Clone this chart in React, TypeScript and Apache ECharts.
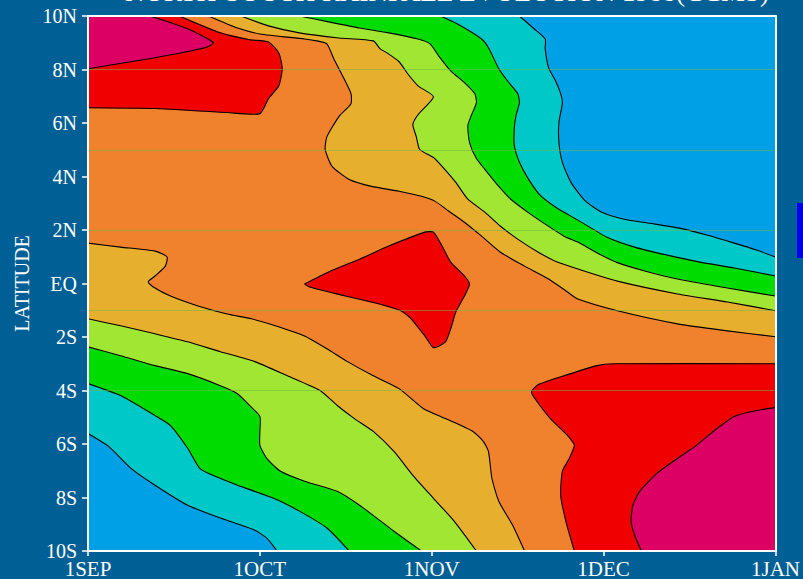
import React, { useEffect, useRef } from 'react';
import * as echarts from 'echarts';

type Pt = [number, number];

// x: months since 1 September (0..4), y: latitude in degrees (+N / -S)
const MONTH_LABELS = ['1SEP', '1OCT', '1NOV', '1DEC', '1JAN'];
const LAT_LABELS = ['10S', '8S', '6S', '4S', '2S', 'EQ', '2N', '4N', '6N', '8N', '10N'];
const GUIDE_LATS = [8, 5, 2, -1, -4];

// Contour isolines, level 1 (lowest) .. level 7 (highest).
// "NE" branches run from the top edge to the right edge,
// "SW" branches run from the left edge to the bottom edge.
const ISO1_NE: Pt[] = [[2.51, 10], [2.59, 9.55], [2.66, 9.14], [2.66, 8.77], [2.68, 8.06], [2.72, 7.58], [2.75, 7.1], [2.76, 6.76], [2.74, 6.02], [2.74, 5.27], [2.76, 4.53], [2.81, 3.78], [2.89, 3.11], [2.99, 2.66], [3.12, 2.4], [3.27, 2.25], [3.44, 2.07], [3.6, 1.81], [3.76, 1.51], [3.89, 1.25], [4, 0.99]];
const ISO1_SW: Pt[] = [[0, -5.61], [0.12, -6.09], [0.25, -6.91], [0.39, -7.54], [0.58, -8.29], [0.77, -8.77], [0.97, -9.22], [1.04, -9.52], [1.1, -10]];

const ISO2_NE: Pt[] = [[2.05, 10], [2.15, 9.7], [2.29, 9.14], [2.33, 8.81], [2.39, 8.03], [2.44, 7.58], [2.5, 7.1], [2.51, 6.76], [2.49, 6.28], [2.48, 5.79], [2.48, 5.16], [2.51, 4.53], [2.56, 3.93], [2.63, 3.3], [2.73, 2.81], [2.85, 2.37], [3.02, 1.73], [3.18, 1.36], [3.37, 1.06], [3.56, 0.8], [3.76, 0.58], [4, 0.28]];
const ISO2_SW: Pt[] = [[0, -3.74], [0.19, -4.19], [0.39, -4.94], [0.48, -5.31], [0.58, -6.16], [0.65, -6.91], [0.74, -7.21], [0.87, -7.54], [1.08, -8.03], [1.23, -8.51], [1.39, -9.14], [1.52, -10]];

const ISO3_NE: Pt[] = [[1.23, 10], [1.4, 9.78], [1.58, 9.55], [1.75, 9.37], [1.92, 9.14], [1.99, 8.96], [2.04, 8.51], [2.11, 7.95], [2.19, 7.51], [2.25, 7.1], [2.26, 6.76], [2.23, 6.28], [2.21, 5.9], [2.22, 5.27], [2.26, 4.67], [2.31, 4.26], [2.39, 3.63], [2.46, 3.15], [2.56, 2.66], [2.66, 2.22], [2.77, 1.77], [2.85, 1.55], [2.96, 1.15], [3.08, 0.78], [3.25, 0.45], [3.43, 0.17], [3.72, -0.17], [4, -0.47]];
const ISO3_SW: Pt[] = [[0, -2.37], [0.19, -2.7], [0.39, -3.07], [0.58, -3.37], [0.77, -3.82], [0.87, -4.12], [0.94, -4.56], [1.0, -4.97], [1.0, -5.53], [1.0, -6.05], [1.04, -6.54], [1.12, -7.02], [1.26, -7.39], [1.45, -7.77], [1.58, -8.29], [1.68, -8.77], [1.78, -9.26], [1.94, -10]];

const ISO4_NE: Pt[] = [[0.89, 10], [1.05, 9.63], [1.23, 9.37], [1.46, 9.18], [1.66, 9.07], [1.7, 8.77], [1.74, 8.62], [1.81, 8.29], [1.86, 7.84], [1.92, 7.39], [2.01, 6.98], [1.92, 6.31], [1.89, 5.94], [1.91, 5.49], [1.93, 5.01], [2.01, 4.71], [2.06, 4.38], [2.14, 3.78], [2.21, 3.15], [2.31, 2.66], [2.4, 2.14], [2.5, 1.66], [2.62, 1.17], [2.73, 0.8], [2.85, 0.54], [3.08, 0.09], [3.43, -0.39], [3.72, -0.69], [4, -1.02]];
const ISO4_SW: Pt[] = [[0, -1.32], [0.19, -1.58], [0.39, -1.88], [0.58, -2.18], [0.77, -2.55], [0.97, -2.92], [1.16, -3.45], [1.35, -4.0], [1.45, -4.56], [1.55, -5.05], [1.66, -5.53], [1.78, -6.28], [1.89, -7.17], [2.01, -8.03], [2.13, -8.88], [2.26, -10]];

const ISO5_NE: Pt[] = [[0.7, 10], [0.87, 9.55], [1.0, 9.33], [1.26, 9.14], [1.33, 9.07], [1.39, 8.96], [1.43, 8.4], [1.49, 7.65], [1.53, 7.1], [1.53, 6.72], [1.46, 6.24], [1.39, 5.49], [1.38, 5.01], [1.42, 4.38], [1.52, 3.89], [1.65, 3.63], [1.81, 3.45], [1.94, 3.26], [2.02, 3.07], [2.1, 2.7], [2.19, 2.29], [2.29, 1.77], [2.4, 1.17], [2.54, 0.65], [2.68, 0.17], [2.79, -0.32], [2.85, -0.58], [3.08, -1.02], [3.43, -1.51], [3.72, -1.77], [4, -1.99]];
const ISO5_SW: Pt[] = [[0, 1.51], [0.19, 1.36], [0.39, 1.21], [0.46, 0.99], [0.45, 0.65], [0.39, 0.28], [0.35, 0.06], [0.38, -0.13], [0.48, -0.47], [0.64, -0.84], [0.81, -1.14], [0.95, -1.32], [1.09, -1.58], [1.26, -1.96], [1.39, -2.44], [1.51, -2.92], [1.66, -3.45], [1.81, -3.93], [1.95, -4.67], [2.08, -5.05], [2.24, -5.53], [2.3, -5.9], [2.33, -6.28], [2.35, -7.28], [2.39, -8.14], [2.47, -9.03], [2.54, -10]];

// level 6: three separate maxima
const ISO6_NW: Pt[] = [[0.53, 10], [0.77, 9.37], [0.94, 9.11], [1.05, 9.03], [1.11, 8.62], [1.13, 8.03], [1.11, 7.39], [1.05, 6.91], [1.0, 6.35], [0.81, 6.39], [0.39, 6.54], [0, 6.57]];
const ISO6_CORE: Pt[] = [[1.26, -0.02], [1.4, 0.43], [1.58, 0.91], [1.75, 1.4], [1.96, 1.92], [2.01, 1.92], [2.06, 1.4], [2.11, 0.8], [2.19, 0.28], [2.22, -0.02], [2.19, -0.47], [2.14, -1.06], [2.11, -1.7], [2.08, -2.18], [2.01, -2.4], [1.96, -1.96], [1.88, -1.32], [1.82, -1.02], [1.69, -0.76], [1.5, -0.47], [1.29, -0.13]];
const ISO6_SE: Pt[] = [[4, -3.0], [3.06, -3.0], [2.96, -3.07], [2.77, -3.45], [2.62, -3.78], [2.58, -4.04], [2.6, -4.3], [2.69, -5.05], [2.79, -5.68], [2.83, -6.05], [2.8, -6.54], [2.76, -7.02], [2.75, -7.91], [2.78, -8.88], [2.83, -10]];

const ISO7_NW: Pt[] = [[0.36, 10], [0.58, 9.52], [0.73, 9.0], [0.68, 8.81], [0.39, 8.44], [0, 8.03]];
const ISO7_SE: Pt[] = [[4, -4.64], [3.89, -4.75], [3.76, -4.97], [3.66, -5.42], [3.54, -6.05], [3.43, -6.54], [3.31, -7.1], [3.21, -7.77], [3.17, -8.29], [3.16, -8.88], [3.18, -9.4], [3.22, -10]];

// shading, lowest level first
const SHADES = ['#00a0e6', '#00c8c8', '#00dc00', '#a0e632', '#e6af2d', '#f0822d', '#f00000', '#dc0064'];
const BG = '#005f94';
const FONT = '"Liberation Serif", "DejaVu Serif", serif';

const X_MIN = 0, X_MAX = 4, Y_MIN = -10, Y_MAX = 10;

// Region at or above a level that spans the diagonal band of the domain
const bandRegion = (ne: Pt[], sw: Pt[]): Pt[] => [
  ...ne,
  [X_MAX, Y_MIN],
  ...sw.slice().reverse(),
  [X_MIN, Y_MAX],
];

const FILLS: { color: string; pts: Pt[] }[] = [
  { color: SHADES[1], pts: bandRegion(ISO1_NE, ISO1_SW) },
  { color: SHADES[2], pts: bandRegion(ISO2_NE, ISO2_SW) },
  { color: SHADES[3], pts: bandRegion(ISO3_NE, ISO3_SW) },
  { color: SHADES[4], pts: bandRegion(ISO4_NE, ISO4_SW) },
  { color: SHADES[5], pts: bandRegion(ISO5_NE, ISO5_SW) },
  { color: SHADES[6], pts: [...ISO6_NW, [X_MIN, Y_MAX]] },
  { color: SHADES[6], pts: ISO6_CORE },
  { color: SHADES[6], pts: [...ISO6_SE, [X_MAX, Y_MIN]] },
  { color: SHADES[7], pts: [...ISO7_NW, [X_MIN, Y_MAX]] },
  { color: SHADES[7], pts: [...ISO7_SE, [X_MAX, Y_MIN]] },
];

const ISOLINES: Pt[][] = [
  ISO1_NE, ISO1_SW, ISO2_NE, ISO2_SW, ISO3_NE, ISO3_SW, ISO4_NE, ISO4_SW,
  ISO5_NE, ISO5_SW, ISO6_NW, [...ISO6_CORE, ISO6_CORE[0]], ISO6_SE, ISO7_NW, ISO7_SE,
];

const frameAxis = (extra: any) => ({
  type: 'value',
  z: 10,
  axisLine: { show: true, onZero: false, lineStyle: { color: '#ffffff', width: 2 } },
  splitLine: { show: false },
  ...extra,
});

export default function App() {
  const ref = useRef<HTMLDivElement>(null);

  useEffect(() => {
    document.body.style.margin = '0';
    document.body.style.background = BG;
    const chart = echarts.init(ref.current as HTMLDivElement, null, { renderer: 'svg' });

    const option: any = {
      animation: false,
      backgroundColor: BG,
      grid: {
        left: 88, right: 24, top: 16, bottom: 26,
        show: true, backgroundColor: SHADES[0], borderWidth: 0,
      },
      xAxis: [
        frameAxis({
          position: 'bottom', min: X_MIN, max: X_MAX, interval: 1,
          axisTick: { show: true, length: 5, lineStyle: { color: '#ffffff', width: 1.5 } },
          axisLabel: {
            color: '#ffffff', fontSize: 21, fontFamily: FONT, margin: 7,
            formatter: (v: number) => MONTH_LABELS[Math.round(v)] ?? '',
          },
        }),
        frameAxis({
          position: 'top', min: X_MIN, max: X_MAX,
          axisTick: { show: false }, axisLabel: { show: false },
        }),
      ],
      yAxis: [
        frameAxis({
          position: 'left', min: Y_MIN, max: Y_MAX, interval: 2,
          name: 'LATITUDE', nameLocation: 'middle', nameRotate: 90, nameGap: 56,
          nameTextStyle: { color: '#ffffff', fontSize: 20, fontFamily: FONT },
          axisTick: { show: true, length: 6, lineStyle: { color: '#ffffff', width: 1.5 } },
          axisLabel: {
            color: '#ffffff', fontSize: 20, fontFamily: FONT, margin: 11,
            formatter: (v: number) => LAT_LABELS[Math.round((v - Y_MIN) / 2)] ?? '',
          },
        }),
        frameAxis({
          position: 'right', min: Y_MIN, max: Y_MAX,
          axisTick: { show: false }, axisLabel: { show: false },
        }),
      ],
      series: [
        {
          type: 'custom',
          name: 'shading',
          silent: true,
          clip: true,
          z: 2,
          data: FILLS.map((_, i) => [i]),
          renderItem: (params: any, api: any) => {
            const f = FILLS[params.dataIndex];
            return {
              type: 'polygon',
              shape: { points: f.pts.map((p) => api.coord(p)) },
              style: { fill: f.color, stroke: f.color, lineWidth: 0.6 },
            };
          },
        },
        {
          type: 'custom',
          name: 'isolines',
          silent: true,
          clip: true,
          z: 3,
          data: ISOLINES.map((_, i) => [i]),
          renderItem: (params: any, api: any) => ({
            type: 'polyline',
            shape: { points: ISOLINES[params.dataIndex].map((p) => api.coord(p)), smooth: 0.2 },
            style: { stroke: '#000000', lineWidth: 1.1, fill: null },
          }),
        },
        {
          type: 'line',
          name: 'guides',
          data: [],
          z: 4,
          silent: true,
          markLine: {
            silent: true,
            symbol: 'none',
            label: { show: false },
            lineStyle: { color: 'rgba(110,185,70,0.55)', width: 1, type: 'solid' },
            data: GUIDE_LATS.map((v) => ({ yAxis: v })),
          },
        },
      ],
      graphic: [
        {
          type: 'text',
          x: 447,
          y: 5,
          style: {
            text: 'NORTH-SOUTH RAINFALL EVOLUTION 1988(CCMS)',
            fill: '#ffffff',
            font: `27px ${FONT}`,
            textAlign: 'center',
            textVerticalAlign: 'bottom',
          },
        },
        {
          type: 'rect',
          shape: { x: 797, y: 203, width: 10, height: 55 },
          style: { fill: '#0000f0' },
        },
      ],
    };

    chart.setOption(option);
    return () => chart.dispose();
  }, []);

  return <div ref={ref} style={{ width: 803, height: 579 }} />;
}
